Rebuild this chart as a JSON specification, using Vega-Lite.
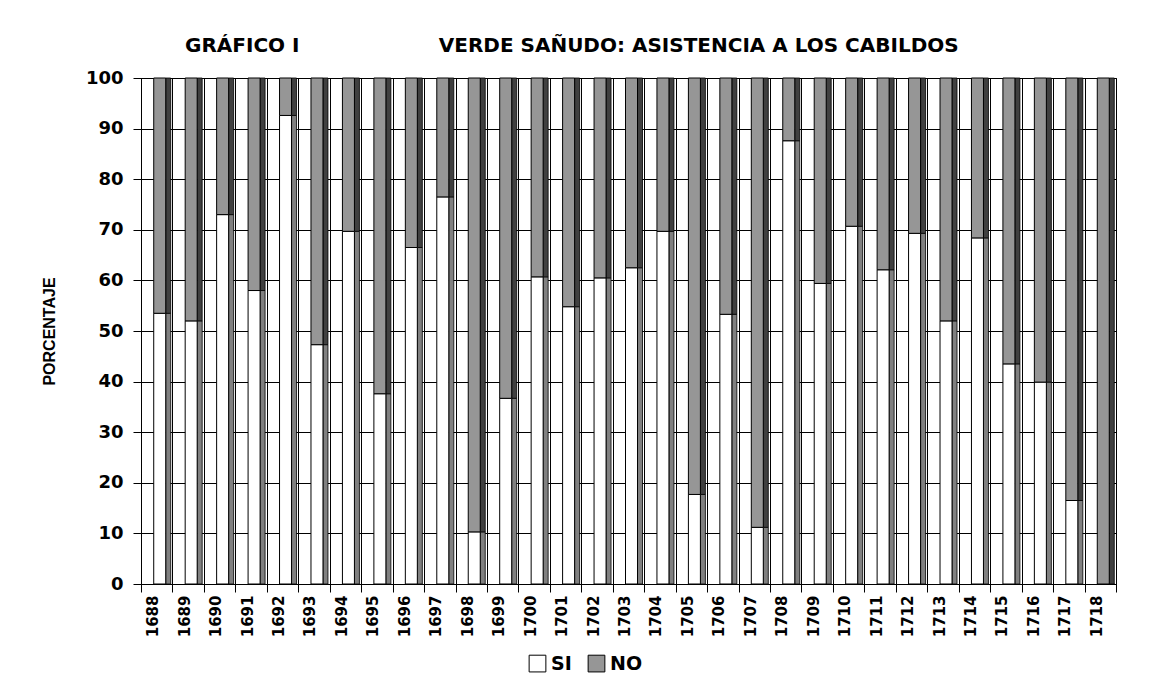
{
  "$schema": "https://vega.github.io/schema/vega-lite/v6.json",
  "autosize": {"type": "none"},
  "width": 975,
  "height": 506,
  "padding": {"left": 141, "top": 78, "right": 35, "bottom": 90},
  "background": "white",
  "title": {
    "text": "GRÁFICO I\u00a0\u00a0\u00a0\u00a0\u00a0\u00a0\u00a0\u00a0\u00a0\u00a0\u00a0\u00a0\u00a0\u00a0\u00a0\u00a0\u00a0\u00a0\u00a0\u00a0VERDE SAÑUDO: ASISTENCIA A LOS CABILDOS",
    "anchor": "start",
    "frame": "group",
    "dx": 44,
    "offset": 13,
    "font": "DejaVu Sans",
    "fontSize": 20,
    "fontWeight": "bold",
    "color": "black"
  },
  "data": {
    "values": [
      {"year": "1688", "resp": "SI", "pct": 53.5}, {"year": "1688", "resp": "NO", "pct": 46.5},
      {"year": "1689", "resp": "SI", "pct": 52.0}, {"year": "1689", "resp": "NO", "pct": 48.0},
      {"year": "1690", "resp": "SI", "pct": 73.0}, {"year": "1690", "resp": "NO", "pct": 27.0},
      {"year": "1691", "resp": "SI", "pct": 58.0}, {"year": "1691", "resp": "NO", "pct": 42.0},
      {"year": "1692", "resp": "SI", "pct": 92.6}, {"year": "1692", "resp": "NO", "pct": 7.4},
      {"year": "1693", "resp": "SI", "pct": 47.3}, {"year": "1693", "resp": "NO", "pct": 52.7},
      {"year": "1694", "resp": "SI", "pct": 69.7}, {"year": "1694", "resp": "NO", "pct": 30.3},
      {"year": "1695", "resp": "SI", "pct": 37.6}, {"year": "1695", "resp": "NO", "pct": 62.4},
      {"year": "1696", "resp": "SI", "pct": 66.5}, {"year": "1696", "resp": "NO", "pct": 33.5},
      {"year": "1697", "resp": "SI", "pct": 76.5}, {"year": "1697", "resp": "NO", "pct": 23.5},
      {"year": "1698", "resp": "SI", "pct": 10.3}, {"year": "1698", "resp": "NO", "pct": 89.7},
      {"year": "1699", "resp": "SI", "pct": 36.7}, {"year": "1699", "resp": "NO", "pct": 63.3},
      {"year": "1700", "resp": "SI", "pct": 60.7}, {"year": "1700", "resp": "NO", "pct": 39.3},
      {"year": "1701", "resp": "SI", "pct": 54.8}, {"year": "1701", "resp": "NO", "pct": 45.2},
      {"year": "1702", "resp": "SI", "pct": 60.5}, {"year": "1702", "resp": "NO", "pct": 39.5},
      {"year": "1703", "resp": "SI", "pct": 62.5}, {"year": "1703", "resp": "NO", "pct": 37.5},
      {"year": "1704", "resp": "SI", "pct": 69.7}, {"year": "1704", "resp": "NO", "pct": 30.3},
      {"year": "1705", "resp": "SI", "pct": 17.7}, {"year": "1705", "resp": "NO", "pct": 82.3},
      {"year": "1706", "resp": "SI", "pct": 53.3}, {"year": "1706", "resp": "NO", "pct": 46.7},
      {"year": "1707", "resp": "SI", "pct": 11.2}, {"year": "1707", "resp": "NO", "pct": 88.8},
      {"year": "1708", "resp": "SI", "pct": 87.6}, {"year": "1708", "resp": "NO", "pct": 12.4},
      {"year": "1709", "resp": "SI", "pct": 59.4}, {"year": "1709", "resp": "NO", "pct": 40.6},
      {"year": "1710", "resp": "SI", "pct": 70.7}, {"year": "1710", "resp": "NO", "pct": 29.3},
      {"year": "1711", "resp": "SI", "pct": 62.1}, {"year": "1711", "resp": "NO", "pct": 37.9},
      {"year": "1712", "resp": "SI", "pct": 69.3}, {"year": "1712", "resp": "NO", "pct": 30.7},
      {"year": "1713", "resp": "SI", "pct": 52.0}, {"year": "1713", "resp": "NO", "pct": 48.0},
      {"year": "1714", "resp": "SI", "pct": 68.4}, {"year": "1714", "resp": "NO", "pct": 31.6},
      {"year": "1715", "resp": "SI", "pct": 43.5}, {"year": "1715", "resp": "NO", "pct": 56.5},
      {"year": "1716", "resp": "SI", "pct": 39.9}, {"year": "1716", "resp": "NO", "pct": 60.1},
      {"year": "1717", "resp": "SI", "pct": 16.5}, {"year": "1717", "resp": "NO", "pct": 83.5},
      {"year": "1718", "resp": "SI", "pct": 0.0}, {"year": "1718", "resp": "NO", "pct": 100.0}
    ]
  },
  "encoding": {
    "x": {
      "field": "year",
      "type": "ordinal",
      "sort": "ascending",
      "scale": {"paddingInner": 0, "paddingOuter": 0},
      "axis": {
        "title": null,
        "labelAngle": -90,
        "labelAlign": "right",
        "labelBaseline": "middle",
        "labelFont": "DejaVu Sans",
        "labelFontSize": 15,
        "labelFontWeight": "bold",
        "labelColor": "black",
        "labelPadding": 3,
        "labelOffset": -4,
        "tickBand": "extent",
        "tickSize": 8,
        "tickColor": "black",
        "domainColor": "black",
        "grid": true,
        "gridColor": "black",
        "gridWidth": 1
      }
    },
    "y": {
      "field": "pct",
      "type": "quantitative",
      "stack": "zero",
      "scale": {"domain": [0, 100], "nice": false},
      "axis": {
        "title": "PORCENTAJE",
        "titleFont": "Liberation Sans",
        "titleFontSize": 16,
        "titleFontWeight": "bold",
        "titleColor": "black",
        "titlePadding": 28,
        "values": [0, 10, 20, 30, 40, 50, 60, 70, 80, 90, 100],
        "labelFont": "DejaVu Sans",
        "labelFontSize": 18,
        "labelFontWeight": "bold",
        "labelColor": "black",
        "labelPadding": 10,
        "tickSize": 8,
        "tickColor": "black",
        "domainColor": "black",
        "grid": true,
        "gridColor": "black",
        "gridWidth": 1
      }
    },
    "order": {"field": "resp", "sort": "descending"}
  },
  "layer": [
    {
      "mark": {"type": "bar", "size": 5, "xOffset": 11.5, "stroke": "black", "strokeWidth": 0.8},
      "encoding": {
        "detail": {"field": "resp"},
        "fill": {
          "condition": {"test": "datum.resp === 'SI'", "value": "#808080"},
          "value": "#404040"
        }
      }
    },
    {
      "mark": {"type": "bar", "size": 12, "xOffset": 3, "stroke": "black", "strokeWidth": 1, "fillOpacity": 1},
      "encoding": {
        "color": {
          "field": "resp",
          "type": "nominal",
          "scale": {"domain": ["SI", "NO"], "range": ["#ffffff", "#969696"]},
          "legend": {
            "title": null,
            "orient": "none",
            "legendX": 387,
            "legendY": 576,
            "direction": "horizontal",
            "symbolType": "square",
            "symbolSize": 280,
            "symbolStrokeColor": "black",
            "symbolStrokeWidth": 1,
            "symbolOpacity": 1,
            "labelFont": "DejaVu Sans",
            "labelFontSize": 19,
            "labelFontWeight": "bold",
            "labelColor": "black",
            "columnPadding": 14
          }
        }
      }
    }
  ],
  "config": {
    "view": {"stroke": "black", "strokeWidth": 1},
    "font": "Liberation Sans"
  }
}
